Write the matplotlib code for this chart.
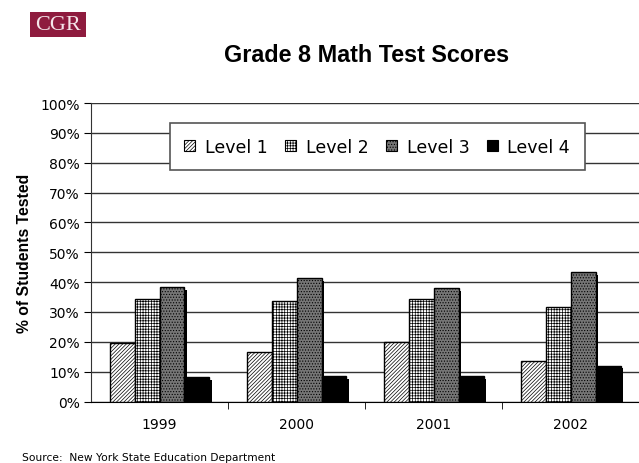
import matplotlib.pyplot as plt
import matplotlib.patheffects as pe
from matplotlib.patches import Patch, Rectangle
import numpy as np

years = ['1999', '2000', '2001', '2002']
levels = ['Level 1', 'Level 2', 'Level 3', 'Level 4']
level1 = [19.6, 16.7, 19.9, 13.7]
level2 = [34.2, 33.8, 34.2, 31.6]
level3 = [38.3, 41.4, 37.9, 43.3]
level4 = [8.3, 8.6, 8.6, 12.0]

series = [level1, level2, level3, level4]
faces = ['white', 'white', '#767676', 'black']
hatches = ['/////////', '++++++', '......', None]

plt.rcParams['hatch.linewidth'] = 0.5

fig = plt.figure(figsize=(6.39, 4.64), dpi=100)
ax = fig.add_axes([0.1424, 0.1325, 0.858, 0.6433])

x = np.arange(len(years))
w = 0.182
shadow = [pe.SimplePatchShadow(offset=(2, -2), shadow_rgbFace='black', alpha=1.0), pe.Normal()]
for i, vals in enumerate(series):
    bars = ax.bar(x + (i - 1.5) * w, vals, w, color=faces[i], edgecolor='black',
                  hatch=hatches[i], linewidth=1.0, zorder=3)
    for b in bars:
        b.set_path_effects(shadow)

ax.set_ylim(0, 100)
ax.set_xlim(-0.5, 3.5)
ax.set_yticks(np.arange(0, 101, 10))
ax.set_yticklabels([f'{v}%' for v in range(0, 101, 10)], fontsize=10)
ax.set_xticks(x)
ax.set_xticklabels(years, fontsize=10)
ax.tick_params(axis='x', length=0, pad=11)
ax.set_xticks([0.5, 1.5, 2.5], minor=True)
ax.tick_params(axis='x', which='minor', length=5, direction='out', color='black')
ax.tick_params(axis='y', length=5, direction='out', color='black', pad=3)
ax.yaxis.grid(True, color='#333333', linewidth=1.0, zorder=0)
ax.set_axisbelow(True)
for s in ['top', 'right']:
    ax.spines[s].set_visible(False)
ax.spines['left'].set_color('#333333')
ax.spines['bottom'].set_color('black')

ax.set_ylabel('% of Students Tested', fontsize=11.3, fontweight='bold',
              family='Liberation Sans', labelpad=6)

handles = [Patch(facecolor=faces[i], edgecolor='black', hatch=hatches[i], linewidth=0.8)
           for i in range(4)]
leg = ax.legend(handles, levels, loc='center', bbox_to_anchor=(0.522, 0.854), ncol=4,
                fontsize=12.5, frameon=True, fancybox=False, shadow=False,
                handlelength=0.63, handleheight=0.63, handletextpad=0.56,
                columnspacing=1.0, borderpad=0.85, edgecolor='#555555', framealpha=1)
leg.get_frame().set_linewidth(1.2)
leg.set_zorder(5)

fig.text(0.574, 0.866, 'Grade 8 Math Test Scores', ha='center', va='baseline',
         fontsize=16.8, fontweight='bold', family='Liberation Sans')
fig.text(0.035, 0.013, 'Source:  New York State Education Department', fontsize=7.7,
         ha='left', va='center')

fig.patches.append(Rectangle((0.047, 0.918), 0.0876, 0.054, transform=fig.transFigure,
                             facecolor='#8e1b3e', edgecolor='none'))
fig.text(0.0908, 0.945, 'CGR', ha='center', va='center', fontsize=16,
         family='Liberation Serif', color='#f5e6ea')

fig.savefig('out.png', dpi=100)
